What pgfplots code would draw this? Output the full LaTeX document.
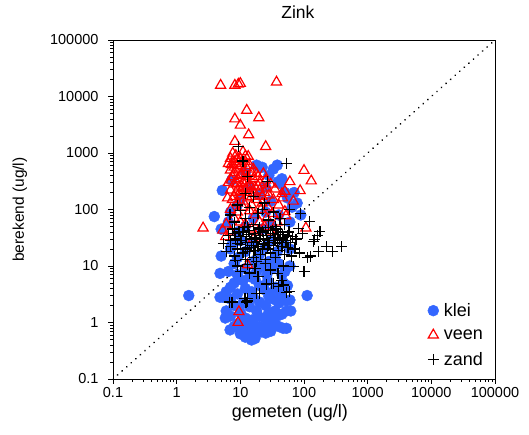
\documentclass[border=0pt]{standalone}
\usepackage{fontspec}
\setmainfont{Liberation Sans}
\usepackage{pgfplots}
\pgfplotsset{compat=1.18}
\definecolor{kleiblue}{RGB}{51,102,255}
\begin{document}
\begin{tikzpicture}
\begin{axis}[
  scale only axis, width=382pt, height=339pt,
  at={(0,0)}, anchor=south west,
  xmode=log, ymode=log,
  xmin=0.1, xmax=100000, ymin=0.1, ymax=100000,
  xtick={0.1,1,10,100,1000,10000,100000},
  ytick={0.1,1,10,100,1000,10000,100000},
  xticklabels={0.1,1,10,100,1000,10000,100000},
  yticklabels={0.1,1,10,100,1000,10000,100000},
  minor xtick={}, minor ytick={},
  tick align=outside, major tick length=5pt,
  xtick pos=lower, ytick pos=left,
  tick style={black, line width=0.8pt},
  axis line style={black, line width=0.8pt},
  /pgf/number format/assume math mode=true,
  tick label style={font=\fontsize{14.5}{17}\selectfont},
  yticklabel style={xshift=-6pt},
  title={Zink},
  title style={at={(axis description cs:0.484,1.065)}, anchor=center, font=\fontsize{17.5}{20}\selectfont},
  xlabel={gemeten (ug/l)},
  xlabel style={at={(axis description cs:0.463,-0.100)}, anchor=center, font=\fontsize{18}{21}\selectfont},
  ylabel={berekend (ug/l)},
  ylabel style={at={(axis description cs:-0.2435,0.50)}, anchor=center, rotate=0, font=\fontsize{15.5}{18}\selectfont},
  legend style={at={(axis description cs:0.8157,0.024)}, anchor=south west, draw=none, fill=none,
     font=\fontsize{18}{21}\selectfont, row sep=7.5pt, column sep=3pt},
  legend cell align=left,
]
\addplot[forget plot, black, line width=1.8pt, line cap=round, dash pattern=on 0.1pt off 6pt]
  coordinates {(0.1,0.1) (100000,100000)};

% klei
\addplot[only marks, mark=*, mark size=5.5pt, mark options={fill=kleiblue, draw=kleiblue}]
coordinates {
(15,0.49) (18,0.68) (12,0.55) (10,0.63) (21,0.68) (17,0.52) (13,0.6) (25,0.65) (30,0.7)
(6.9,0.74) (10,0.74) (47,0.79) (53,0.79) (8,0.85) (11,0.9) (14,0.8) (20,0.85) (27,0.9) (35,0.95) (40,0.85) (9,0.95) (16,0.95)
(5.8,1.2) (7,1.3) (12,1.2) (15,1.1) (19,1.3) (24,1.2) (30,1.1) (38,1.3) (45,1.4) (62,1.6) (53,1.6) (6,1.6) (10,1.5) (18,1.6) (28,1.5) (35,1.6)
(1.55,3.0) (112,3.0) (4.8,2.8) (5.3,2.8) (60,2.5) (53,2.4) (8,2.0) (11,2.2) (14,1.9) (20,2.3) (25,2.0) (33,2.6) (40,2.2) (7,2.6) (16,2.8) (28,2.9) (45,2.8)
(6,3.5) (9,3.2) (12,4) (15,3.5) (20,4.5) (24,3.8) (30,3.3) (36,4.2) (42,3.6) (48,5) (55,4.5) (8,5) (11,5.5) (17,5.8) (27,5.5) (7,4.2)
(4.8,7.4) (6.5,8) (9,7) (12,9) (14,6.5) (18,8) (22,10) (26,7) (32,9) (40,11) (50,8) (60,10) (8,11) (16,12) (28,12) (45,7)
(5,15) (7,20) (7.3,23) (9,14) (12,18) (15,25) (20,16) (25,22) (30,28) (38,18) (48,25) (60,20) (10,28) (18,13) (35,14)
(3.9,75) (5,45) (6.5,60) (9,40) (12,50) (16,70) (22,45) (30,55) (40,80) (89,80) (60,60) (25,90) (7,90)
(5.2,218) (7.3,330) (18,610) (38,610) (42,290) (39,310) (78,130) (10,150) (14,250) (20,180) (28,400) (9,120) (50,200) (30,140) (12,450) (25,250)
(22,560) (33,520) (45,350) (55,160) (65,110) (70,200)
};
\addlegendentry{klei}

% veen
\addplot[only marks, mark=triangle, mark size=5.8pt, mark options={draw=red, line width=1.2pt, fill=none}]
coordinates {
(4.9,15800) (8.2,15800) (9.3,16500) (10,17000) (37,18000) (12.6,5700) (19.5,4200) (8.2,4000) (10,3100) (13.5,2100) (8.2,1600) (25,1300)
(100,490) (130,320) (60,310) (87,215) (50,210) (46,160) (68,140) (50,92) (52,77)
(2.6,47) (5.3,43) (5.9,33) (107,47) (13,10.5) (9.5,1.55) (9.2,1.0) (20,60)
(6.5,650) (7,800) (7.6,990) (8,700) (8.5,900) (9,600) (10,800) (11,1050) (12,700) (13.3,870) (14,600)
(7,500) (8,450) (9.5,520) (11,480) (12.5,550) (7.5,380) (9,350) (10.5,420) (13,380) (15,450) (18,430) (23,430)
(6.5,300) (8,280) (9.5,250) (11,300) (12.5,320) (14,280) (16,350) (20,300) (25,330) (30,280)
(7,220) (8.5,200) (10,180) (12,230) (14,200) (17,250) (20,220) (24,200) (28,180) (35,230)
(6.3,160) (7.5,150) (9,130) (11,140) (13,160) (15,120) (18,150) (22,130) (27,110) (33,150) (40,120) (45,190)
(7,100) (9,90) (11,110) (14,95) (17,80) (21,100) (26,70) (32,85) (38,60)
(8,70) (10,60) (12,55) (15,45) (19,40) (6,55) (7,40) (24,50) (30,40) (16,30)
(7.2,620) (8.8,760) (10.5,650) (12,880) (8,560) (10,400) (12,410) (16,520) (19,380) (7.2,330) (9,290) (11,240) (13,260) (15,170) (17,190) (19,260) (22,170) (26,240) (8,170) (10,210)
};
\addlegendentry{veen}

% zand
\addplot[only marks, mark=+, mark size=5.5pt, mark options={draw=black, line width=1.2pt}]
coordinates {
(9.3,1300) (11,720) (53,660) (13,380) (27,310) (12,195) (16,170) (24,130)
(6.9,80) (8,60) (10,95) (12,70) (14,110) (16,55) (19,85) (28,65) (33,90) (42,70) (50,55) (87,85) (81,46) (122,61) (22,100) (9,120) (13,50) (36,50) (60,100)
(5.4,25) (6.5,35) (7.5,45) (8.5,30) (9.5,40) (10.5,28) (11.5,48) (12.5,33) (13.5,42) (15,30) (16.5,38) (18,27) (19.5,45) (21,35) (23,30) (25,42) (27,28) (30,38) (33,32) (37,45) (41,30) (46,36) (52,28) (58,40) (66,33) (75,30) (148,29) (178,41) (140,27) (165,35) (95,38) (7,28) (12,26) (20,48) (28,48) (44,26)
(6,18) (7,22) (8,15) (9,20) (10,24) (11,17) (12,13) (13,21) (14,18) (15,23) (16,14) (17,19) (19,22) (21,16) (23,24) (25,13) (27,20) (30,17) (33,23) (36,14) (40,19) (45,22) (50,16) (56,21) (63,15) (72,20) (85,17) (225,22) (390,22) (280,18) (170,18) (125,15) (115,14) (8.5,12.5) (18,12)
(10,8) (17,9.1) (19,6.5) (39,7.4) (68,9.7) (100,8) (13,10.5) (25,11) (30,8.5) (48,10) (9,10) (14,7.5)
(60,3.5) (47,4.6) (33,4.9) (20,3.3) (13,2.7) (13,2.4) (7.4,2.3) (6.7,2.3) (11.8,2.7) (12.3,2.3) (18,3.3) (26,4.8) (40,4.3) (53,3.4) (31,4.9) (45,5.6)
(8,38) (10,33) (11,40) (14,36) (15,26) (17,32) (20,30) (22,40) (24,25) (26,35) (29,26) (32,42) (35,28) (39,36) (43,40) (48,32) (55,34) (62,26) (9,25) (12,20) (16,21) (22,20) (28,23) (38,25)
};
\addlegendentry{zand}
\end{axis}
\pgfresetboundingbox
\path[use as bounding box] (-113pt,-56pt) rectangle (416pt,379pt);
\end{tikzpicture}
\end{document}
